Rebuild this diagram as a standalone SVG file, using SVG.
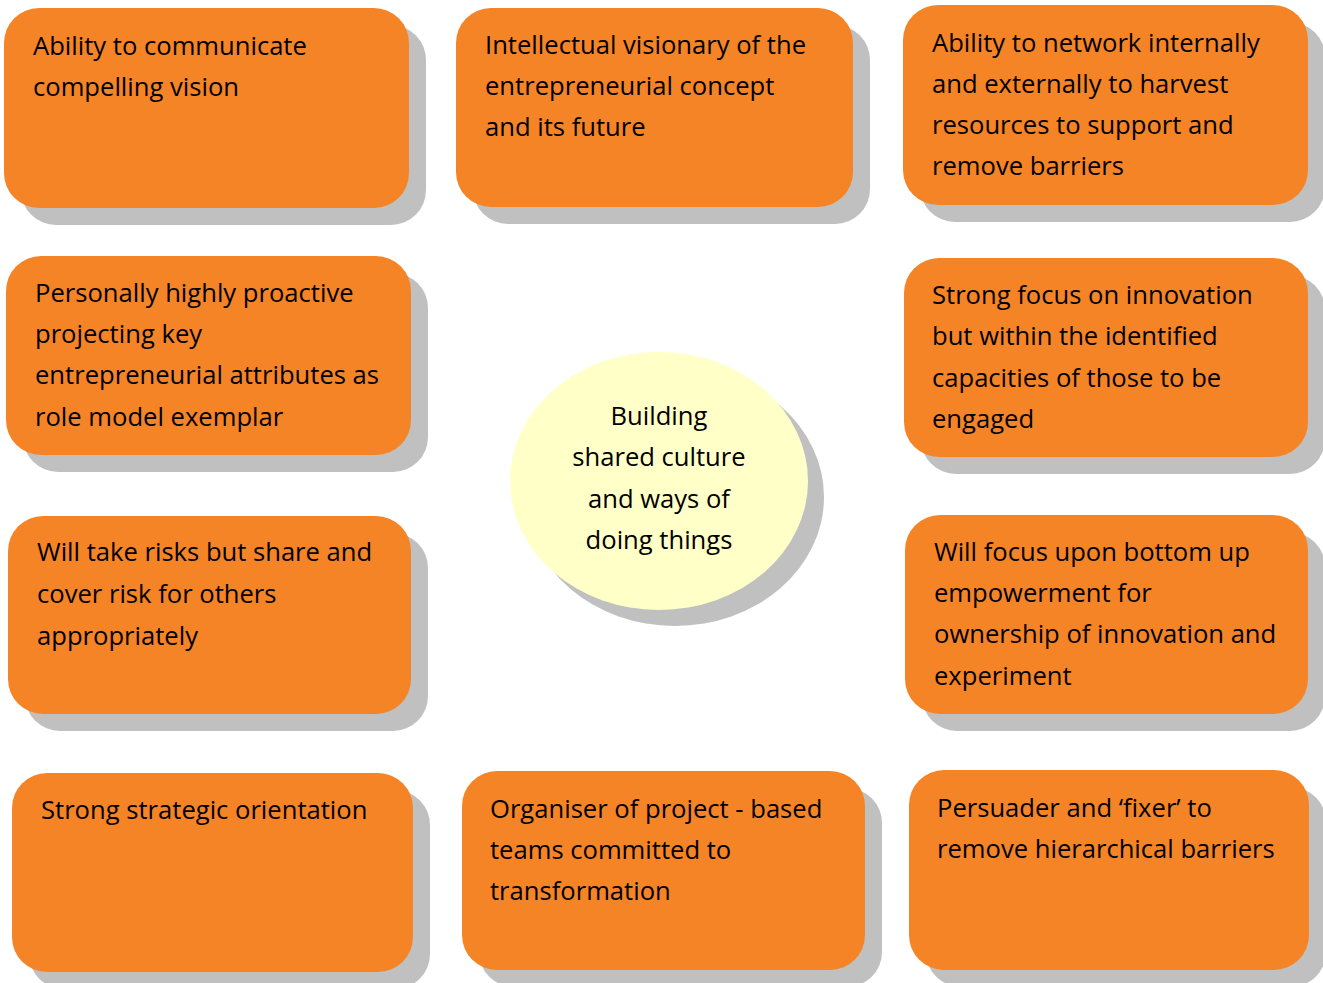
<svg xmlns="http://www.w3.org/2000/svg" width="1323" height="983" viewBox="0 0 1323 983">
<style>
.sh{fill:#c0c0c0}
.bx{fill:#f58426}
.el{fill:#ffffc8}
text{font-family:"Open Sans","Noto Sans",sans-serif;font-size:25.6px;fill:#000}
.c{text-anchor:middle}
</style>
<rect width="1323" height="983" fill="#fff"/>
<g id="n1"><rect class="sh" x="21" y="25" width="405" height="200" rx="35"/><rect class="bx" x="4" y="8" width="405" height="200" rx="35"/>
<text x="33" y="55">Ability to communicate</text><text x="33" y="96">compelling vision</text></g>
<g id="n2"><rect class="sh" x="473" y="25" width="397" height="199" rx="35"/><rect class="bx" x="456" y="8" width="397" height="199" rx="35"/>
<text x="485" y="54">Intellectual visionary of the</text><text x="485" y="95">entrepreneurial concept</text><text x="485" y="136">and its future</text></g>
<g id="n3"><rect class="sh" x="920" y="22" width="405" height="200" rx="35"/><rect class="bx" x="903" y="5" width="405" height="200" rx="35"/>
<text x="932" y="52">Ability to network internally</text><text x="932" y="93">and externally to harvest</text><text x="932" y="134">resources to support and</text><text x="932" y="175">remove barriers</text></g>
<g id="n4"><rect class="sh" x="23" y="273" width="405" height="199" rx="35"/><rect class="bx" x="6" y="256" width="405" height="199" rx="35"/>
<text x="35" y="302">Personally highly proactive</text><text x="35" y="343">projecting key</text><text x="35" y="384">entrepreneurial attributes as</text><text x="35" y="426">role model exemplar</text></g>
<g id="n5"><rect class="sh" x="921" y="275" width="404" height="199" rx="35"/><rect class="bx" x="904" y="258" width="404" height="199" rx="35"/>
<text x="932" y="304">Strong focus on innovation</text><text x="932" y="345">but within the identified</text><text x="932" y="387">capacities of those to be</text><text x="932" y="428">engaged</text></g>
<g id="n6"><rect class="sh" x="25" y="533" width="403" height="198" rx="35"/><rect class="bx" x="8" y="516" width="403" height="198" rx="35"/>
<text x="37" y="561">Will take risks but share and</text><text x="37" y="603">cover risk for others</text><text x="37" y="645">appropriately</text></g>
<g id="n7"><rect class="sh" x="922" y="532" width="403" height="199" rx="35"/><rect class="bx" x="905" y="515" width="403" height="199" rx="35"/>
<text x="934" y="561">Will focus upon bottom up</text><text x="934" y="602">empowerment for</text><text x="934" y="643">ownership of innovation and</text><text x="934" y="685">experiment</text></g>
<g id="n8"><rect class="sh" x="29" y="790" width="401" height="199" rx="35"/><rect class="bx" x="12" y="773" width="401" height="199" rx="35"/>
<text x="41" y="819">Strong strategic orientation</text></g>
<g id="n9"><rect class="sh" x="479" y="788" width="403" height="199" rx="35"/><rect class="bx" x="462" y="771" width="403" height="199" rx="35"/>
<text x="490" y="818">Organiser of project - based</text><text x="490" y="859">teams committed to</text><text x="490" y="900">transformation</text></g>
<g id="n10"><rect class="sh" x="926" y="787" width="400" height="200" rx="35"/><rect class="bx" x="909" y="770" width="400" height="200" rx="35"/>
<text x="937" y="817">Persuader and ‘fixer’ to</text><text x="937" y="858">remove hierarchical barriers</text></g>
<g id="center"><ellipse class="sh" cx="675" cy="497" rx="149" ry="129"/><ellipse class="el" cx="659" cy="481" rx="149" ry="129"/>
<text class="c" x="659" y="425">Building</text><text class="c" x="659" y="466">shared culture</text><text class="c" x="659" y="508">and ways of</text><text class="c" x="659" y="549">doing things</text></g>
<g id="connectors"/>
</svg>
